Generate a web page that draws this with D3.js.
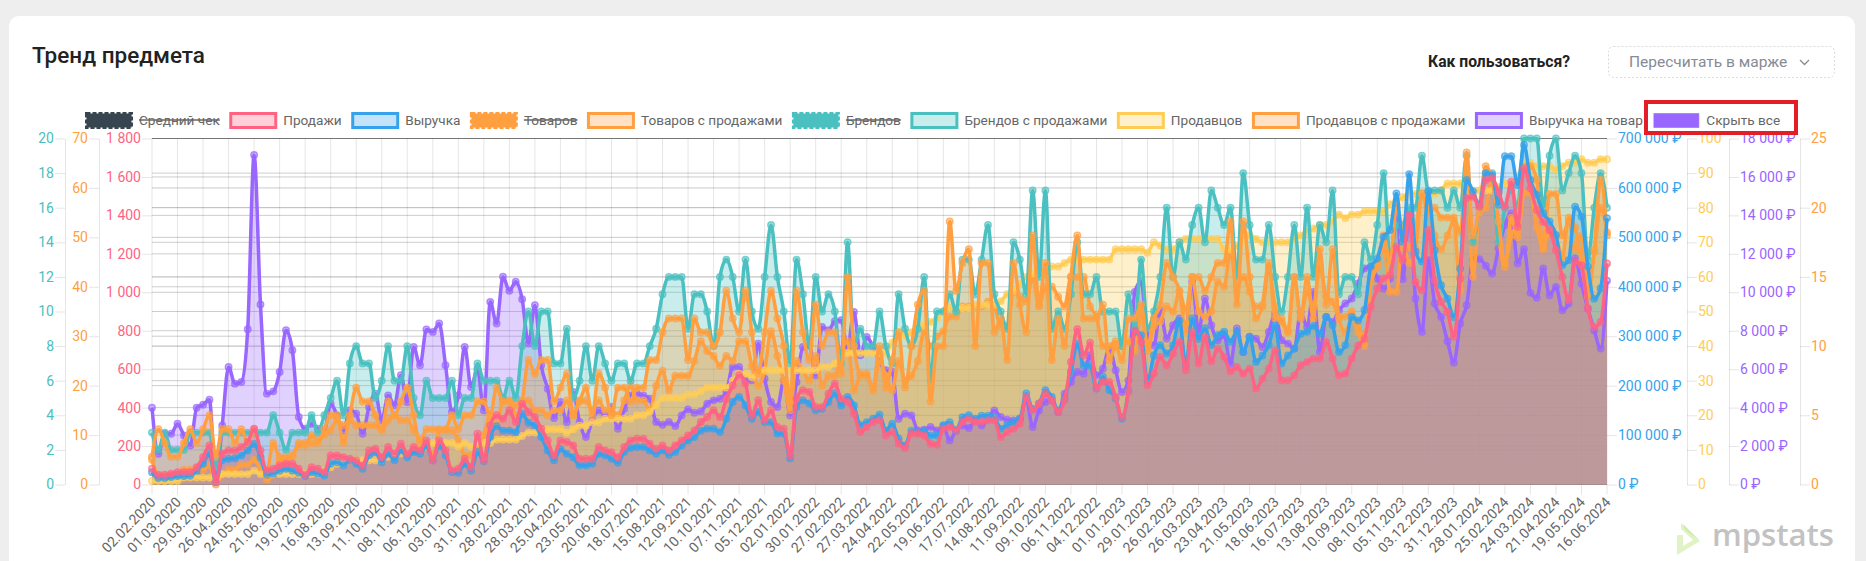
<!DOCTYPE html>
<html lang="ru"><head><meta charset="utf-8">
<script src="https://cdn.jsdelivr.net/npm/d3@7"></script>
<style>
html,body{margin:0;padding:0;background:#eeeeee;overflow:hidden}
svg{display:block;font-family:Roboto,sans-serif}
</style></head><body>
<svg id="c" width="1866" height="561"></svg>
<script>
const tickDates=["02.02.2020","01.03.2020","29.03.2020","26.04.2020","24.05.2020","21.06.2020","19.07.2020","16.08.2020","13.09.2020","11.10.2020","08.11.2020","06.12.2020","03.01.2021","31.01.2021","28.02.2021","28.03.2021","25.04.2021","23.05.2021","20.06.2021","18.07.2021","15.08.2021","12.09.2021","10.10.2021","07.11.2021","05.12.2021","02.01.2022","30.01.2022","27.02.2022","27.03.2022","24.04.2022","22.05.2022","19.06.2022","17.07.2022","14.08.2022","11.09.2022","09.10.2022","06.11.2022","04.12.2022","01.01.2023","29.01.2023","26.02.2023","26.03.2023","23.04.2023","21.05.2023","18.06.2023","16.07.2023","13.08.2023","10.09.2023","08.10.2023","05.11.2023","03.12.2023","31.12.2023","28.01.2024","25.02.2024","24.03.2024","21.04.2024","19.05.2024","16.06.2024"];

const sales=[82,50,50,56,64,64,64,90,142,203,12,160,177,177,195,221,290,177,73,82,99,108,108,82,50,90,82,64,151,151,142,134,125,99,177,186,142,195,
160,212,160,195,177,229,125,229,177,73,82,134,90,264,125,307,360,342,386,325,420,377,351,290,229,151,229,221,203,134,134,134,195,177,168,142,195,229,
238,238,212,186,203,177,203,229,255,281,325,351,386,351,446,516,568,525,360,438,334,386,299,290,151,446,490,481,403,403,472,525,446,429,368,273,299,325,
334,255,273,212,189,264,264,255,212,207,290,299,281,325,342,325,325,334,334,247,273,290,316,455,386,420,472,438,377,438,637,808,672,738,499,533,533,455,
351,481,802,742,516,577,664,620,681,742,594,794,629,768,641,707,664,589,611,577,603,499,551,603,698,542,542,568,620,637,655,655,742,655,568,577,655,724,
759,924,1020,1072,1089,1237,1167,1402,1054,1011,1324,1063,950,898,768,1072,1489,1497,1445,1584,1593,1523,1445,1575,1341,1645,1541,1428,1367,1324,1219,1080,959,1159,1141,915,820,846,1150];

const revenue=[25000,13000,13000,15000,17000,17000,18000,28000,42000,62000,5000,49000,52000,53000,59000,69000,82000,55000,20000,22000,28000,32000,28000,24000,17000,25000,22000,18000,42000,45000,39000,49000,42000,32000,59000,66000,45000,62000,
49000,69000,55000,66000,62000,79000,49000,79000,59000,25000,24000,42000,28000,66000,47000,96000,118000,109000,109000,106000,143000,125000,120000,96000,69000,49000,72000,62000,55000,39000,39000,42000,62000,59000,52000,44000,66000,74000,
76000,76000,69000,62000,69000,60000,66000,79000,89000,96000,109000,113000,113000,106000,133000,167000,177000,160000,133000,147000,126000,126000,103000,103000,53000,157000,170000,164000,150000,153000,167000,184000,160000,177000,160000,120000,126000,133000,
141000,109000,123000,93000,79000,109000,106000,109000,99000,99000,120000,126000,109000,136000,140000,133000,139000,139000,136000,113000,120000,126000,133000,184000,153000,164000,191000,177000,150000,174000,228000,285000,241000,241000,194000,218000,191000,174000,
133000,191000,309000,302000,209000,261000,282000,265000,282000,332000,241000,336000,295000,316000,282000,302000,309000,289000,309000,268000,299000,248000,261000,282000,322000,245000,261000,275000,305000,309000,321000,305000,339000,322000,268000,282000,339000,332000,
353000,441000,457000,501000,515000,589000,491000,628000,471000,451000,593000,474000,403000,376000,339000,437000,616000,593000,566000,630000,626000,566000,664000,664000,606000,687000,616000,586000,549000,532000,505000,444000,454000,562000,542000,441000,376000,397000,539000];

const goodsSold=[2,4,3,2,2,3,4,3,4,5,2,4,4,3,4,3,4,2,1,3,2,2,2,3,3,3,3,4,5,5,3,5,7,6,6,5,4,6,
5,6,7,5,3,4,4,4,4,5,4,5,5,6,6,5,7,6,6,5,6,9,8,9,9,6,7,8,5,6,7,5,8,7,5,7,7,6,
7,7,9,9,11,12,12,12,9,12,11,11,10,11,14,12,11,14,11,8,11,14,12,10,6,14,11,9,13,10,11,11,8,15,10,8,8,7,
10,7,9,11,7,10,13,14,6,10,10,19,14,16,17,10,16,16,11,12,9,16,13,11,18,13,16,9,12,10,15,18,12,12,12,13,9,10,
9,12,12,13,10,12,13,16,15,14,11,15,15,14,15,16,16,19,13,19,15,12,13,16,12,12,11,15,12,15,12,17,13,17,12,11,12,11,
10,15,16,18,16,20,18,16,17,21,20,18,17,18,19,14,24,18,20,23,22,19,16,18,19,23,23,22,17,21,21,18,19,17,18,14,17,22,18];

const brandsSold=[3,2,3,2,2,2,3,3,3,3,1,3,3,3,3,3,3,3,3,4,3,2,3,3,3,4,3,4,5,6,4,7,8,7,7,5,6,8,
6,6,8,5,4,6,5,5,5,6,4,5,5,7,6,6,6,5,6,5,8,10,8,10,10,7,7,9,5,6,8,6,8,7,6,7,7,6,
7,7,8,9,11,12,12,12,9,11,11,10,8,12,13,12,10,13,10,9,12,15,12,10,7,13,11,8,12,10,11,10,7,14,8,9,8,8,
10,8,7,11,9,8,9,12,6,10,10,11,10,13,13,11,13,15,11,10,9,14,13,11,17,12,17,9,10,9,11,14,11,11,12,10,10,10,
8,11,9,13,9,10,12,16,12,14,13,15,16,14,17,16,15,16,12,18,15,13,13,15,12,10,12,15,12,16,12,15,14,17,11,12,12,11,
14,13,15,18,13,15,15,16,16,19,17,17,17,16,17,16,19,14,16,18,18,14,16,17,16,20,20,20,16,19,20,17,18,19,18,13,16,18,16];

const sellers=[1,1,1,1,1,2,2,2,2,2,1,3,3,3,3,3,4,3,3,3,3,3,3,3,3,3,3,4,5,6,6,7,7,7,7,7,7,8,
8,9,9,10,10,11,12,12,12,12,11,12,11,12,12,12,13,13,13,13,14,15,15,15,16,16,16,15,16,17,17,18,18,19,19,19,19,19,
20,20,21,23,25,25,25,25,26,26,27,28,28,28,28,30,32,32,31,32,33,33,33,33,33,33,33,33,33,34,34,35,37,38,38,38,38,38,
38,38,41,44,43,44,46,46,47,48,50,51,51,51,51,52,52,52,52,53,55,56,58,60,61,62,62,63,63,64,65,65,65,65,65,65,65,68,
68,68,68,68,67,70,69,68,68,70,71,71,71,71,71,71,68,68,69,70,72,71,70,70,70,70,70,71,72,73,74,75,75,76,78,77,78,78,
79,79,79,79,81,82,83,84,84,84,84,84,85,87,87,87,85,85,85,85,85,86,87,87,89,93,93,92,92,92,91,92,93,93,94,93,93,94,94];

const sellersSold=[5,2,2,2,2,3,3,3,3,4,0,2,3,3,4,4,5,3,1,2,5,5,6,8,8,10,9,10,11,13,12,13,12,12,12,12,11,13,
14,13,13,11,9,8,6,11,11,11,9,6,6,7,10,14,12,17,17,16,17,17,15,15,14,15,15,17,14,17,17,15,17,15,15,14,17,20,
17,17,15,20,23,19,22,22,22,25,29,27,26,24,26,25,29,29,24,20,23,31,26,21,15,25,23,21,26,20,22,22,27,29,19,22,22,19,
25,22,19,25,21,22,25,31,28,30,31,34,34,36,36,36,36,37,36,32,32,39,38,37,42,36,40,40,38,36,42,42,42,36,34,28,28,29,
28,29,27,35,27,32,33,36,35,39,35,42,35,34,35,41,40,47,40,42,39,36,36,44,36,33,31,42,34,39,36,44,38,37,34,34,35,32,
30,41,44,48,39,39,50,48,52,59,55,56,54,54,54,51,64,42,55,56,62,50,44,54,50,59,59,52,48,51,50,46,54,52,45,38,47,56,51];

const revenuePerGood=[3995,1598,2640,2640,3161,2553,2032,3995,4151,4412,122,3074,6114,5246,5333,8077,17144,9362,4725,4846,5854,8025,6983,3509,2901,3161,2901,2814,4204,3596,2814,3856,3682,2640,4030,4725,3335,4638,
4117,5680,4290,7156,6201,8060,7938,8372,6201,3769,4638,7156,5072,6027,3856,9501,8372,10804,10075,10544,9640,7330,9328,6201,4985,3457,4290,3248,4811,3248,2467,3335,3856,3596,4030,2901,3943,4638,
4725,4638,4464,3248,3109,3248,3040,3596,3908,3735,3804,4204,4377,4464,4811,6114,6114,5419,5419,7330,5506,4290,4030,5419,3596,5333,7156,7243,5680,8199,8025,8494,8546,7070,8980,6722,7678,7156,
6375,5941,5854,3422,3682,3596,2814,2849,2988,2814,3022,2293,2814,3074,2936,3335,3074,3422,3856,3509,3370,3335,3422,4464,2988,3856,4290,4377,3769,4725,5333,5854,5767,6722,5680,6027,7070,5941,
4811,5419,10022,10544,7764,7243,9067,7591,8285,8633,8112,10544,7938,9675,8285,7504,7764,6288,8112,6896,7678,7591,7156,7938,8893,7504,7330,7070,8980,8199,10022,6896,8720,8459,9067,9415,9675,10457,
11238,11325,10717,10196,10717,14539,10683,14018,9675,7938,11673,9415,8720,7452,6340,8372,9328,11673,11725,11377,10978,12281,13496,14104,11499,12246,9970,9710,11238,9849,10283,9067,9415,11760,10457,9154,8025,7070,10596];

const legendNames=["Средний чек","Продажи","Выручка","Товаров","Товаров с продажами","Брендов","Брендов с продажами","Продавцов","Продавцов с продажами","Выручка на товар","Скрыть все"];
const hiddenLegend=["Средний чек","Товаров","Брендов"];

const C={pink:"255,99,132",blue:"54,162,235",orange:"255,159,64",teal:"75,192,192",yellow:"255,205,86",purple:"153,102,255",dark:"54,69,79"};
const rgb=c=>`rgb(${c})`, rgba=(c,a)=>`rgba(${c},${a})`;
const legendColors=[C.dark,C.pink,C.blue,C.orange,C.orange,C.teal,C.teal,C.yellow,C.orange,C.purple,C.purple];

const W=1866,H=561,L=152,R=1607,T=138.5,B=484.5;
const svg=d3.select("#c");
const parse=d3.utcParse("%d.%m.%Y"), fmtD=d3.utcFormat("%d.%m.%Y");
const categories=d3.utcDay.range(parse("02.02.2020"),d3.utcDay.offset(parse("16.06.2024"),1),7).map(fmtD);
const x=d3.scalePoint().domain(categories).range([L,R]);

// card
svg.append("rect").attr("x",9).attr("y",16).attr("width",1846).attr("height",580).attr("rx",10).attr("fill","#fff");
svg.append("text").attr("x",32).attr("y",63).attr("font-size",22.5).attr("font-weight",500).attr("fill","#222").text("Тренд предмета");
svg.append("text").attr("x",1428).attr("y",67).attr("font-size",15.7).attr("font-weight",700).attr("fill","#222").text("Как пользоваться?");
svg.append("rect").attr("x",1608.5).attr("y",46.5).attr("width",226).attr("height",31).attr("rx",5).attr("fill","none").attr("stroke","#d9d9d9").attr("stroke-dasharray","2 2");
svg.append("text").attr("x",1629).attr("y",67).attr("font-size",15.5).attr("fill","#868b94").text("Пересчитать в марже");
svg.append("path").attr("d","M1800 60l4.5 4.5l4.5-4.5").attr("fill","none").attr("stroke","#868b94").attr("stroke-width",1.3);

// axes definition
const f=d3.formatLocale({decimal:",",thousands:"\u00a0",grouping:[3],currency:["","\u00a0₽"]});
const num=f.format(",d"), rub=d=>num(d)+"\u00a0₽";
const axisDefs=[
 {key:"teal",side:"left",pos:65,max:20,step:2,color:C.teal,fmt:num},
 {key:"ordL",side:"left",pos:99,max:70,step:10,color:C.orange,fmt:num},
 {key:"pink",side:"left",pos:152,max:1800,step:200,color:C.pink,fmt:num},
 {key:"blue",side:"right",pos:1607,max:700000,step:100000,color:C.blue,fmt:rub},
 {key:"yel",side:"right",pos:1687,max:100,step:10,color:C.yellow,fmt:num},
 {key:"pur",side:"right",pos:1729,max:18000,step:2000,color:C.purple,fmt:rub},
 {key:"ordR",side:"right",pos:1800,max:25,step:5,color:C.orange,fmt:num}
];
const scales={};
axisDefs.forEach(a=>{scales[a.key]=d3.scaleLinear().domain([0,a.max]).range([B,T]);});

// grid
const grid=svg.append("g").attr("stroke","rgba(0,0,0,0.1)").attr("fill","none");
axisDefs.forEach(a=>{
  grid.append("g").selectAll("line").data(d3.range(0,a.max+a.step,a.step)).join("line")
    .attr("x1",L).attr("x2",R).attr("y1",d=>scales[a.key](d)).attr("y2",d=>scales[a.key](d));
});
grid.append("g").selectAll("line").data(tickDates).join("line")
  .attr("x1",d=>x(d)).attr("x2",d=>x(d)).attr("y1",T).attr("y2",B+10);

// y axes
axisDefs.forEach(a=>{
  const ax=(a.side==="left"?d3.axisLeft:d3.axisRight)(scales[a.key])
    .tickValues(d3.range(0,a.max+a.step,a.step)).tickFormat(a.fmt).tickSizeInner(10).tickSizeOuter(0).tickPadding(1);
  const g=svg.append("g").attr("transform",`translate(${a.pos},0)`).call(ax);
  g.selectAll("path.domain").attr("stroke",a.pos===152||a.pos===1607?"none":"rgba(0,0,0,0.1)");
  g.selectAll(".tick line").attr("stroke","rgba(0,0,0,0.1)");
  g.selectAll("text").attr("fill",rgb(a.color)).attr("font-size",14).attr("font-family","Roboto,sans-serif");
});

// x axis labels
const xg=svg.append("g").attr("font-size",14).attr("fill","#666");
xg.selectAll("text").data(tickDates).join("text")
  .attr("text-anchor","end").attr("dy","0.35em")
  .attr("transform",d=>`translate(${x(d)+1},${B+15}) rotate(-46)`).text(d=>d);

// series: all fills first, then lines and points on top, bottom to top
const seriesList=[
 {vals:revenuePerGood,scale:"pur",color:C.purple},
 {vals:sellersSold,scale:"ordL",color:C.orange},
 {vals:sellers,scale:"yel",color:C.yellow},
 {vals:brandsSold,scale:"teal",color:C.teal},
 {vals:goodsSold,scale:"ordR",color:C.orange},
 {vals:revenue,scale:"blue",color:C.blue},
 {vals:sales,scale:"pink",color:C.pink}
];
const areas=svg.append("g"), lines=svg.append("g");
seriesList.forEach(s=>{
  const y=scales[s.scale];
  const data=s.vals.map((v,i)=>({c:categories[i],v}));
  const area=d3.area().x(d=>x(d.c)).y0(B).y1(d=>y(d.v)).curve(d3.curveMonotoneX);
  const line=d3.line().x(d=>x(d.c)).y(d=>y(d.v)).curve(d3.curveMonotoneX);
  areas.append("path").attr("d",area(data)).attr("fill",rgba(s.color,0.3));
  const g=lines.append("g");
  g.append("path").attr("d",line(data)).attr("fill","none").attr("stroke",rgb(s.color)).attr("stroke-width",3.5);
  g.append("g").selectAll("circle").data(data).join("circle")
    .attr("cx",d=>x(d.c)).attr("cy",d=>y(d.v)).attr("r",3.2)
    .attr("fill",rgba(s.color,0.45)).attr("stroke",rgba(s.color,0.7)).attr("stroke-width",1.5);
});

// legend
const leg=svg.append("g");
let lx=85;
legendNames.forEach((n,i)=>{
  const c=legendColors[i], hidden=hiddenLegend.includes(n), solid=n==="Скрыть все";
  const g=leg.append("g");
  const sw=g.append("rect").attr("x",lx+1.5).attr("y",113.5).attr("width",45).attr("height",14)
    .attr("stroke",rgb(c)).attr("stroke-width",3);
  if(hidden) sw.attr("fill",rgb(c)).attr("stroke-dasharray","4 2");
  else if(solid) sw.attr("fill",rgb(c)).attr("stroke",rgba(c,0.6)).attr("stroke-width",1);
  else sw.attr("fill",rgba(c,0.3));
  const t=g.append("text").attr("x",lx+54).attr("y",125).attr("font-size",13.6).attr("fill","#666").text(n);
  const w=t.node().getComputedTextLength();
  if(hidden) g.append("line").attr("x1",lx+54).attr("x2",lx+54+w).attr("y1",120).attr("y2",120).attr("stroke","#666").attr("stroke-width",1.5);
  lx+=54+w+9.5;
});

// highlight
svg.append("rect").attr("x",1646).attr("y",102).attr("width",150).attr("height",31).attr("fill","none").attr("stroke","#e31e26").attr("stroke-width",4);

// watermark
const wm=svg.append("g");
wm.append("path").attr("d","M1681 523L1700 541L1677 555L1677 535L1683 535L1683 546L1693 540L1681 529Z").attr("fill","#dff3c4");
wm.append("path").attr("d","M1683 524L1699 540L1685 530Z").attr("fill","#cfe9ae");
wm.append("text").attr("x",1712).attr("y",546).attr("font-size",31).attr("font-weight",600).attr("font-family","'Open Sans',sans-serif").attr("fill","#c2c2c2").attr("textLength",122).attr("lengthAdjust","spacingAndGlyphs").text("mpstats");
</script>
</body></html>
